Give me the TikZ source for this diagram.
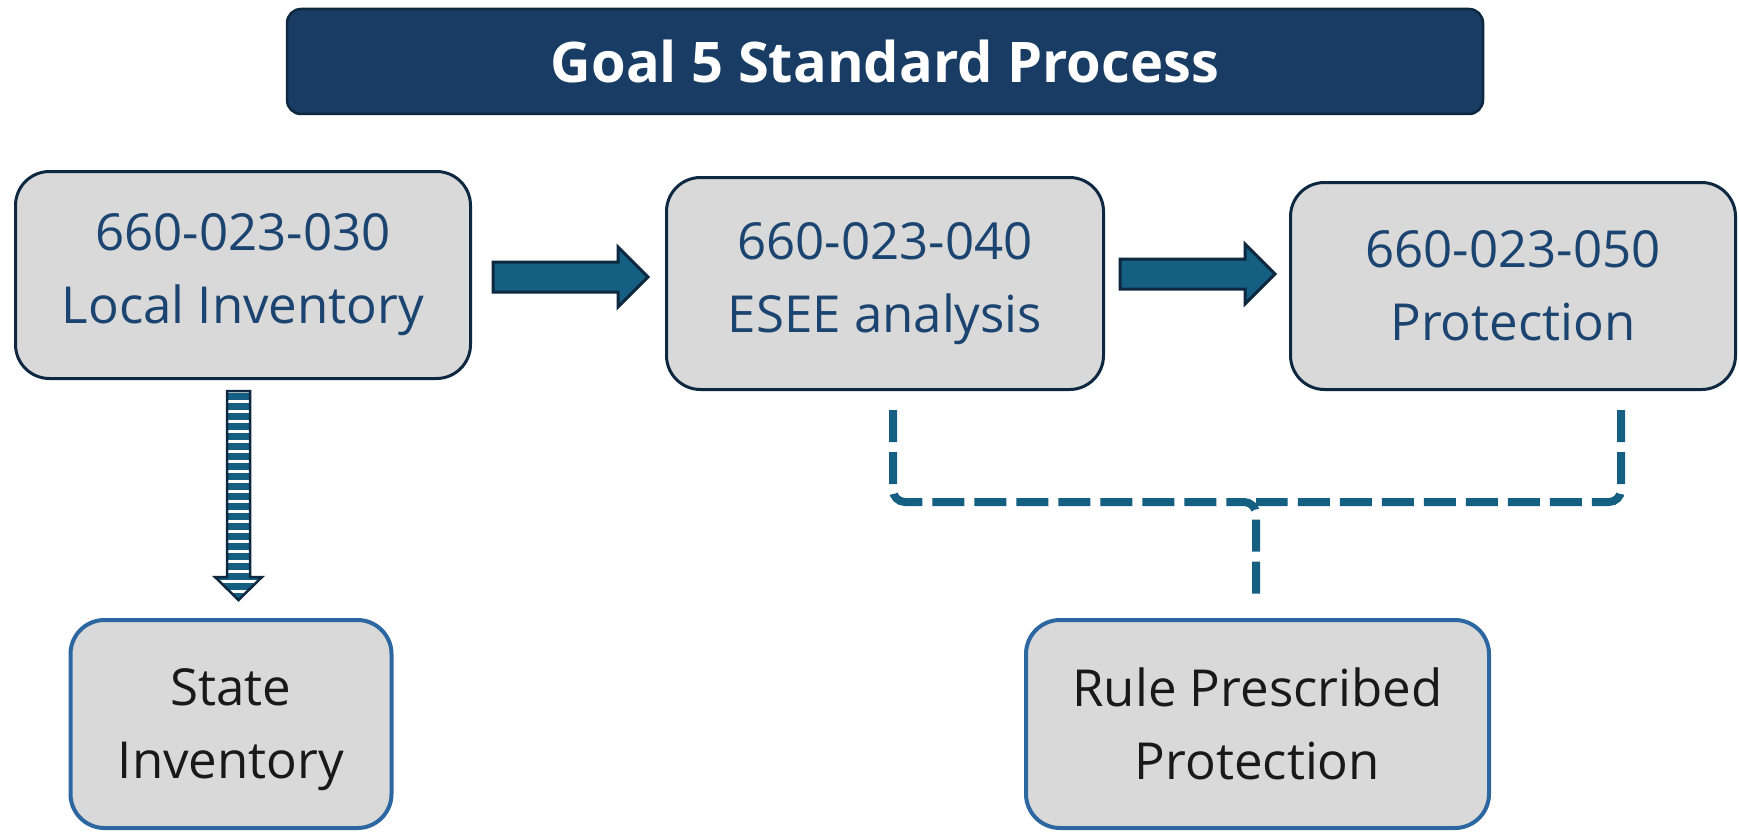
\documentclass[tikz,border=0pt]{standalone}
\usepackage{fontspec}
\setmainfont{Open Sans}
\definecolor{navyfill}{HTML}{183C63}
\definecolor{darkline}{HTML}{0E2841}
\definecolor{boxgray}{HTML}{D9D9D9}
\definecolor{boxtext}{HTML}{1B4470}
\definecolor{accentblue}{HTML}{156082}
\definecolor{lowborder}{HTML}{2D67A1}
\begin{document}
\begin{tikzpicture}[x=1pt,y=-1pt,
  titlebox/.style={rectangle, rounded corners=14pt, draw=darkline, line width=2.5pt, fill=navyfill,
    minimum width=1196pt, minimum height=105pt, text=white, font=\fontsize{56}{66}\selectfont\bfseries},
  stepbox/.style={rectangle, rounded corners=34pt, draw=darkline, line width=3pt, fill=boxgray,
    text=boxtext, align=center, font=\fontsize{51}{73}\selectfont},
  lowbox/.style={rectangle, rounded corners=34pt, draw=lowborder, line width=4pt, fill=boxgray,
    text=black!90, align=center, minimum width=321pt, minimum height=208pt, text depth=0pt,
    font=\fontsize{51}{73}\selectfont},
  blockarrow/.style={fill=accentblue, draw=darkline, line width=3pt, line join=miter},
  bracket/.style={draw=accentblue, line width=8pt, dash pattern=on 32pt off 10pt, rounded corners=12pt}
]
\useasboundingbox (0,0) rectangle (1739,832);

\node[titlebox] (title) at (885,61.5) {Goal 5 Standard Process};

\node[stepbox, minimum width=455pt, minimum height=207pt] (b1) at (243,275) {660-023-030\\Local Inventory};
\node[stepbox, minimum width=437pt, minimum height=212pt] (b2) at (885,283.5) {660-023-040\\ESEE analysis};
\node[stepbox, minimum width=445pt, minimum height=207pt] (b3) at (1513,286) {660-023-050\\Protection};

\node[lowbox] (s1) at (231,724) {State\\Inventory};
\node[lowbox, minimum width=463pt] (r1) at (1257.5,724) {Rule Prescribed\\Protection};

% block arrows
\draw[blockarrow] (493,262) -- (618,262) -- (618,247) -- (648,277) -- (618,307) -- (618,292) -- (493,292) -- cycle;
\draw[blockarrow] (1120,259) -- (1245,259) -- (1245,244) -- (1275,274) -- (1245,304) -- (1245,289) -- (1120,289) -- cycle;

% striped arrow
\begin{scope}
  \clip (227,391) -- (250,391) -- (250,577) -- (262,577) -- (238.5,600) -- (215,577) -- (227,577) -- cycle;
  \fill[white] (200,380) rectangle (280,610);
  \foreach \yy in {393,403,...,603} {
    \fill[accentblue] (200,\yy) rectangle (280,\yy+6.5);
  }
\end{scope}
\draw[darkline, line width=2.5pt, line join=miter] (227,391) -- (250,391) -- (250,577) -- (262,577) -- (238.5,600) -- (215,577) -- (227,577) -- cycle;

% dashed bracket
\coordinate (bl) at (893,410);
\coordinate (br) at (1621,410);
\coordinate (bm) at (1256,502);
\coordinate (bt) at (1256,596);
\draw[bracket] (bl) |- (bm) -- (bt);
\draw[bracket] (br) |- (bm);
\end{tikzpicture}
\end{document}
